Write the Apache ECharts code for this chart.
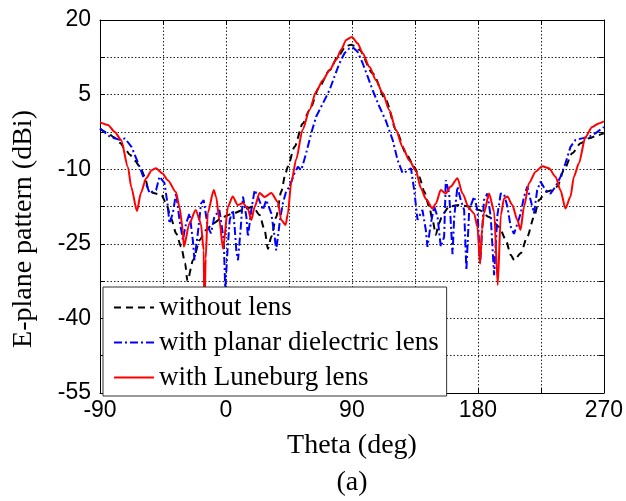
<!DOCTYPE html>
<html>
<head>
<meta charset="utf-8">
<script src="https://cdn.jsdelivr.net/npm/echarts@6/dist/echarts.min.js"></script>
<style>
  html, body { margin: 0; padding: 0; background: #fff; }
  #chart { width: 626px; height: 501px; }
</style>
</head>
<body>
<div id="chart"></div>
<script>
// E-plane radiation pattern, theta in degrees, gain in dBi

// Without lens
const thetaNoLens = [-90, -84, -80, -75.7, -72, -68.6, -65, -61.5, -58, -55.6, -52, -46, -42.7, -39.2, -35.6, -32, -29.2, -27.5, -23.5, -18.7, -14, -9.2, -2.1, 5, 12.2, 19.3, 24, 27.6, 30, 32.4, 35.9, 39.5, 42.6, 44.2, 49, 54.9, 59.7, 66.8, 74, 79.9, 85.9, 89.4, 92, 95.3, 104.8, 114.3, 121.5, 128.6, 134.5, 138.1, 141.7, 145.2, 147.6, 150, 152, 155, 159.5, 166.6, 173.8, 180.9, 188, 195.2, 200, 203.4, 206, 210.6, 215.3, 220.1, 223.7, 228.4, 232, 236.7, 241.5, 247.4, 253.4, 259.3, 266.4, 270];
const gainNoLens = [-1.8, -2.8, -3.6, -4.7, -6, -7.1, -8.3, -9.5, -11.5, -13.8, -14.8, -15.2, -16.9, -19.9, -22.9, -25.6, -28.9, -32.5, -28.3, -24.2, -22.2, -20.9, -19.6, -18.9, -18.2, -17.5, -19.2, -22.2, -26, -23.6, -19.6, -14.5, -10.8, -9.5, -5.5, -0.8, 1.9, 6.6, 9.9, 12.6, 14.8, 15, 14.8, 14, 9.3, 3.9, -2.1, -6.8, -9.5, -11.5, -14.5, -17.5, -20.2, -23.2, -21, -19, -17.5, -17.2, -17.5, -18.2, -19.6, -21.6, -24.2, -27.2, -28.3, -26.9, -23.6, -19.6, -16.2, -14.6, -14.3, -13.5, -10.2, -6.8, -4.8, -3.8, -3.1, -2.8];

// With planar dielectric lens
const thetaPlanar = [-90, -82.9, -75.7, -72.2, -67.5, -62.7, -59.1, -54.5, -49.9, -47.5, -43.9, -41.5, -40.4, -38, -35.6, -33.2, -30.8, -28.5, -26, -23.7, -22.5, -20.1, -17.8, -15.9, -13, -10.7, -8.3, -4.7, -1.6, -0.5, 1.2, 2.7, 5, 6.2, 7.4, 8.6, 10.5, 12.2, 14.6, 15.7, 18.1, 20.5, 22.8, 26.4, 28.8, 32.4, 34.8, 35.9, 38.3, 40.5, 43, 45.4, 49, 51.4, 53.8, 57.3, 60.9, 64.5, 69.2, 74, 77.5, 81.1, 84.7, 88.2, 90.6, 94.1, 97.7, 101.3, 104.8, 109.6, 114.3, 119.1, 122.7, 126.2, 128.6, 132.2, 134.5, 136.9, 140.4, 142.8, 144, 146.4, 148.8, 151.2, 153.5, 155.9, 157.1, 159.5, 161.9, 163.1, 165.4, 167.8, 170.2, 171.8, 173.8, 177.3, 179.7, 181.6, 184.4, 186.8, 189.2, 191.6, 194, 196.3, 198.7, 201.1, 203.4, 205.8, 208.2, 210.6, 213, 215.3, 217.7, 220.1, 222.4, 224.8, 228.4, 231.9, 235.5, 239.1, 242.6, 246.2, 249.8, 254.5, 259.3, 264, 270];
const gainPlanar = [-1.8, -3.5, -4.1, -3.8, -5.5, -8.8, -11.5, -14.8, -14.2, -11.5, -12.8, -17.5, -20.9, -18.9, -14.8, -20.2, -24.2, -20.9, -18.9, -24.2, -28.3, -22.9, -16.9, -16.2, -21.6, -22.9, -19.6, -18.2, -24.2, -34, -26, -20.2, -18.2, -21.6, -26.3, -28.3, -22, -15.5, -19.6, -23.6, -18.2, -14.2, -15.5, -18.2, -16.2, -18.9, -23.6, -26.3, -20.9, -17, -14.5, -13.5, -10.8, -9.5, -10.2, -6.8, -2.8, 0.6, 3.2, 5.9, 8.6, 11.3, 13.3, 14.3, 14.5, 13.6, 11.3, 8.6, 5.9, 2.6, -0.3, -4.1, -8.2, -10.8, -10.5, -9.8, -14.2, -20.2, -18.2, -22.2, -25.6, -20.9, -17.5, -19.6, -25.6, -23.6, -12.2, -14.8, -27.1, -19.6, -13.5, -16.2, -18.2, -30.3, -18.2, -15.5, -18.2, -28.9, -16.2, -14.9, -19.6, -31.3, -19.2, -14.9, -15, -17.5, -21.5, -23, -21, -18.9, -15.5, -13.5, -16.2, -18.9, -14.2, -12.5, -14.2, -14.9, -13.5, -11.5, -8.8, -5.5, -4.1, -3.8, -3.5, -2.8, -1.5];

// With Luneburg lens
const thetaLuneburg = [-90, -84.3, -79.5, -75, -70, -67.7, -63.6, -60.8, -57, -53, -50, -45.5, -41.5, -35.8, -33.2, -30.8, -30.1, -26, -21.6, -18, -15.9, -15.4, -14.5, -13, -8.7, -7, -4.7, -2.1, 1.5, 4.8, 8.4, 12, 15.5, 18.1, 20.5, 24, 27.6, 32.4, 37.1, 39.5, 42.6, 44.2, 46.6, 50.2, 54.7, 59.7, 64.5, 69.2, 74, 78.7, 82.3, 85.9, 90, 94.1, 97.7, 102.5, 107.2, 112, 116.7, 121.5, 126.2, 131, 135.7, 139.3, 142.9, 147.6, 150, 153.5, 157, 160.6, 165.4, 169, 173.8, 177.3, 179.7, 181.6, 183, 184.4, 188, 191.6, 194.2, 196.4, 198.7, 201.1, 204.6, 208.2, 210.5, 213, 216.5, 221.3, 226, 230.8, 235.5, 239, 242.6, 246.2, 248.6, 252.2, 256.9, 261.7, 266.4, 270];
const gainLuneburg = [-0.6, -1.1, -2.5, -4.1, -9.6, -13.6, -18.4, -14.8, -11.8, -10.2, -9.8, -10.8, -12.2, -14.6, -17.6, -22.2, -25.6, -20.8, -18.2, -20.8, -26.3, -39, -28, -18.8, -14.2, -15.6, -20.2, -26, -17.5, -15.5, -17.2, -16.8, -17.8, -20.2, -17.6, -14.8, -15.6, -14.8, -16.6, -20.2, -21.2, -19, -12.8, -8, -2.1, 1.9, 5.6, 7.9, 9.9, 12, 14, 16, 16.6, 15.3, 13.3, 10.6, 7.9, 5.3, 1.9, -2.1, -5.5, -8.2, -10.3, -13.8, -16, -17.9, -16.9, -14.2, -14.9, -13.5, -11.8, -14.9, -17.9, -18.9, -21.6, -29, -22, -18.8, -14.9, -18.5, -33.3, -19.2, -15.9, -15.5, -17.2, -20.2, -22.2, -17.5, -12.8, -10.5, -9.4, -9.8, -11.5, -14.2, -17.9, -15.5, -11.5, -8.8, -3.5, -1.5, -0.8, -0.4];

const seriesNames = ['without lens', 'with planar dielectric lens', 'with Luneburg lens'];

function pairs(xs, ys) {
  return xs.map((x, i) => [x, ys[i]]);
}

const serif = 'Liberation Serif, Times New Roman, serif';
const sans = 'Liberation Sans, Arial, sans-serif';
const gridDots = { show: true, lineStyle: { color: '#222', width: 1, type: [1.5, 2] } };

function valueAxis(extra) {
  return Object.assign({
    type: 'value',
    axisLine: { show: true, onZero: false, lineStyle: { color: '#000', width: 1 } },
    axisTick: { show: true, inside: true, length: 5, lineStyle: { color: '#000' } },
    minorTick: { show: true, splitNumber: 2, length: 5, lineStyle: { color: '#000' } },
    splitLine: { show: false },
    minorSplitLine: { show: false },
    axisLabel: { show: false }
  }, extra);
}

const chart = echarts.init(document.getElementById('chart'), null, { renderer: 'canvas' });

chart.setOption({
  animation: false,
  backgroundColor: '#fff',
  grid: { left: 100, top: 20, right: 21, bottom: 108, containLabel: false },
  xAxis: [
    valueAxis({
      position: 'bottom', min: -90, max: 270, interval: 90,
      splitLine: gridDots, minorSplitLine: gridDots,
      axisLabel: { show: true, margin: 6, color: '#000', fontFamily: sans, fontSize: 23 }
    }),
    valueAxis({ position: 'top', min: -90, max: 270, interval: 90 })
  ],
  yAxis: [
    valueAxis({
      position: 'left', min: -55, max: 20, interval: 15,
      splitLine: gridDots, minorSplitLine: gridDots,
      axisLabel: { show: true, margin: 9, color: '#000', fontFamily: sans, fontSize: 23 }
    }),
    valueAxis({ position: 'right', min: -55, max: 20, interval: 15 })
  ],
  legend: {
    orient: 'vertical',
    left: 103, top: 287,
    backgroundColor: '#fff',
    borderColor: '#333', borderWidth: 1,
    padding: [7, 8, 5, 10],
    itemWidth: 40, itemHeight: 20, itemGap: 8,
    itemStyle: { opacity: 0 },
    textStyle: { fontFamily: serif, fontSize: 27, color: '#000', lineHeight: 26 },
    data: seriesNames
  },
  graphic: [
    {
      type: 'text', x: 24, y: 229, rotation: Math.PI / 2,
      style: { text: 'E-plane pattern (dBi)', font: '28px ' + serif, fill: '#000',
               textAlign: 'center', textVerticalAlign: 'middle', align: 'center', verticalAlign: 'middle' }
    },
    {
      type: 'text', x: 352, y: 446,
      style: { text: 'Theta (deg)', font: '28px ' + serif, fill: '#000',
               textAlign: 'center', textVerticalAlign: 'middle', align: 'center', verticalAlign: 'middle' }
    },
    {
      type: 'text', x: 352, y: 483,
      style: { text: '(a)', font: '28px ' + serif, fill: '#000',
               textAlign: 'center', textVerticalAlign: 'middle', align: 'center', verticalAlign: 'middle' }
    }
  ],
  series: [
    {
      name: seriesNames[0], type: 'line', symbol: 'none', showSymbol: false,
      smooth: 0.25, smoothMonotone: 'x',
      data: pairs(thetaNoLens, gainNoLens),
      lineStyle: { color: '#000', width: 2, type: [7, 5] },
      itemStyle: { color: '#000' }
    },
    {
      name: seriesNames[1], type: 'line', symbol: 'none', showSymbol: false,
      data: pairs(thetaPlanar, gainPlanar),
      lineStyle: { color: '#0000ff', width: 2, type: [8, 3, 2, 3] },
      itemStyle: { color: '#0000ff' }
    },
    {
      name: seriesNames[2], type: 'line', symbol: 'none', showSymbol: false,
      smooth: 0.25, smoothMonotone: 'x',
      data: pairs(thetaLuneburg, gainLuneburg),
      lineStyle: { color: '#ff0000', width: 2 },
      itemStyle: { color: '#ff0000' }
    }
  ]
});
</script>
</body>
</html>
